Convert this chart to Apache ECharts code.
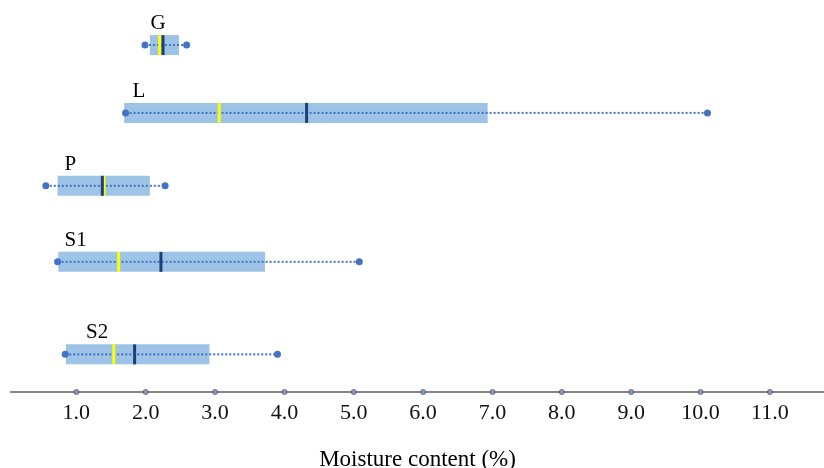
<!DOCTYPE html>
<html>
<head>
<meta charset="utf-8">
<script src="https://cdn.jsdelivr.net/npm/echarts@6/dist/echarts.min.js"></script>
<style>
  html, body { margin: 0; padding: 0; background: #fff; }
  #chart { width: 824px; height: 468px; }
</style>
</head>
<body>
<div id="chart"></div>
<script>
// box plot values (moisture content, %)
const groups = ["G", "L", "P", "S1", "S2"];
const whiskerMin = [1.99, 1.71, 0.56, 0.73, 0.84];
const boxLow = [2.06, 1.69, 0.73, 0.74, 0.85];
const boxHigh = [2.48, 6.93, 2.06, 3.72, 2.92];
const whiskerMax = [2.59, 10.10, 2.28, 5.08, 3.90];
const medians = [2.20, 3.06, 1.40, 1.61, 1.54];
const means = [2.25, 4.32, 1.375, 2.22, 1.84];
// vertical placement of each row (hidden axis units) and where its name label starts
const rowPos = [8.85, 7.12, 5.26, 3.32, 0.96];
const labelStart = [2.07, 1.81, 0.83, 0.83, 1.14];
const tickValues = [1, 2, 3, 4, 5, 6, 7, 8, 9, 10, 11];

const font = "'Liberation Serif', 'Times New Roman', serif";
const boxHeight = 20;

const chart = echarts.init(document.getElementById("chart"));

const boxData = groups.map((g, i) => [
  boxLow[i], boxHigh[i], whiskerMin[i], whiskerMax[i], medians[i], means[i], rowPos[i], labelStart[i]
]);

function renderBox(params, api) {
  const y = api.coord([0, api.value(6)])[1];
  const x = (i) => api.coord([api.value(i), 0])[0];
  const top = y - boxHeight / 2;
  const name = groups[params.dataIndex];
  return {
    type: "group",
    children: [
      {
        type: "rect",
        shape: { x: x(0), y: top, width: x(1) - x(0), height: boxHeight },
        style: { fill: "#9dc3e6" }
      },
      {
        type: "line",
        shape: { x1: x(2), y1: y, x2: x(3), y2: y },
        style: { stroke: "#4472c4", lineWidth: 2, lineDash: [2, 2] }
      },
      {
        type: "line",
        shape: { x1: x(4), y1: top, x2: x(4), y2: top + boxHeight },
        style: { stroke: "#ffff00", lineWidth: 3 }
      },
      {
        type: "line",
        shape: { x1: x(5), y1: top, x2: x(5), y2: top + boxHeight },
        style: { stroke: "#203f7a", lineWidth: 3 }
      },
      {
        type: "circle",
        shape: { cx: x(2), cy: y, r: 3.5 },
        style: { fill: "#4472c4" }
      },
      {
        type: "circle",
        shape: { cx: x(3), cy: y, r: 3.5 },
        style: { fill: "#4472c4" }
      },
      {
        type: "text",
        x: x(7),
        y: top - 1,
        style: {
          text: name,
          font: "21px " + font,
          fill: "#000",
          textAlign: "left",
          textVerticalAlign: "bottom"
        }
      }
    ]
  };
}

chart.setOption({
  animation: false,
  grid: { left: 11, right: 0, top: 0, bottom: 76, outerBoundsMode: "none" },
  xAxis: {
    type: "value",
    min: 0.058,
    max: 11.78,
    name: "Moisture content (%)",
    nameLocation: "middle",
    nameGap: 56,
    nameTextStyle: { fontFamily: font, fontSize: 23, color: "#000" },
    axisLine: { show: true, lineStyle: { color: "#858585", width: 2 } },
    axisTick: { show: false },
    splitLine: { show: false },
    axisLabel: {
      customValues: tickValues,
      formatter: (v) => v.toFixed(1),
      fontFamily: font,
      fontSize: 22,
      color: "#111",
      margin: 10
    }
  },
  yAxis: {
    type: "value",
    min: 0,
    max: 10,
    show: false
  },
  series: [
    {
      type: "custom",
      renderItem: renderBox,
      data: boxData,
      clip: false,
      z: 3
    },
    {
      // round tick marks sitting on the axis line
      type: "scatter",
      data: tickValues.map((v) => [v, 0]),
      symbol: "circle",
      symbolSize: 5,
      itemStyle: { color: "#8497b0", borderColor: "#44546a", borderWidth: 1 },
      clip: false,
      z: 4
    }
  ]
});
</script>
</body>
</html>
